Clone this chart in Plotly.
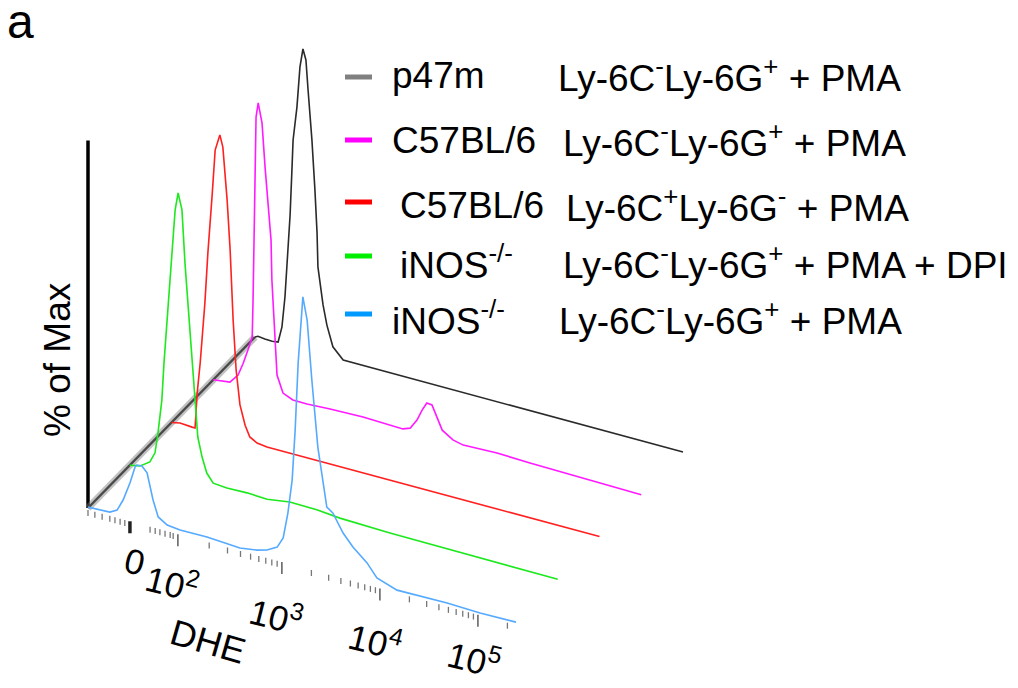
import math
import plotly.graph_objects as go

W, H = 1018, 688

# ---- data: DHE display channel (0-1000 along the axis) vs % of Max ----
ino_pma_ch = [0, 28, 51, 68, 82, 98, 110, 114, 126, 138, 152, 164, 185, 215, 278, 355, 395,
              418, 442, 456, 467, 477, 484, 491, 500, 502, 512, 523, 537, 558, 572, 596, 619,
              652, 675, 722, 839, 916, 1000]
ino_pma_pct = [0.3, 0.4, 0.6, 1.9, 5.8, 12.1, 17.9, 18.7, 18.8, 17.0, 8.5, 3.3, 1.4, 0.9, 1.0,
               0.3, 1.1, 2.0, 3.9, 7.5, 16.2, 27.6, 44.5, 67.1, 86.2, 89.6, 82.3, 62.7, 40.9,
               21.7, 20.3, 14.5, 10.7, 6.7, 2.6, 0.3, 0.5, 0.1, 0.3]

ino_dpi_ch = [0, 24, 47, 59, 66, 75, 80, 87, 94, 99, 106, 113, 122, 129, 136, 143, 148, 159,
              169, 180, 195, 227, 274, 321, 374, 437, 491, 608, 1000]
ino_dpi_pct = [0, 0.7, 2.9, 6.4, 13.3, 24.6, 37.2, 51.8, 63.0, 74.5, 89.1, 95.1, 89.8, 72.4,
               59.3, 46.2, 34.0, 15.5, 9.2, 4.3, 1.5, 1.1, 1.3, 1.0, 2.1, 1.9, 1.2, 0.7, 0.3]

b6_mono_ch = [0, 20, 48, 55, 60, 67, 78, 85, 95, 102, 113, 120, 130, 137, 144, 151, 160, 172,
              183, 200, 223, 277, 340, 417, 1000]
b6_mono_pct = [0, 0.6, 0.3, 0.3, 12.1, 22.4, 42.8, 59.8, 79.5, 94.7, 100.2, 96.4, 79.1, 62.7,
               39.7, 23.3, 12.0, 5.7, 2.2, 0.8, 0.4, 0.4, 0.2, 0.2, 0.3]

b6_gran_ch = [0, 16, 39, 58, 70, 81, 91, 93, 95, 98, 100, 105, 114, 121, 128, 135, 137, 144,
              149, 163, 186, 219, 273, 350, 443, 460, 476, 488, 499, 511, 523, 535, 560, 584,
              663, 740, 1000]
b6_gran_pct = [0, 0.2, 0.7, 3.8, 8.2, 13.0, 17.7, 30.1, 50.2, 72.0, 91.4, 96.3, 89.9, 75.6,
               62.5, 51.8, 38.5, 22.1, 7.3, 1.8, 0.4, 0.3, 0.7, 1.0, 0.6, 1.5, 4.8, 8.6, 11.4,
               11.2, 7.6, 3.7, 1.4, 0.6, 1.0, 0.6, 0.0]

p47_gran_ch = [0, 7, 23, 40, 54, 63, 70, 77, 82, 86, 89, 98, 105, 112, 119, 124, 133, 140,
               145, 147, 152, 159, 168, 182, 206, 252, 292, 643, 1000]
p47_gran_pct = [0, 0.5, 0.2, 0.1, 0.4, 5.8, 16.0, 32.0, 43.8, 58.0, 69.1, 80.4, 94.0, 100.3,
                96.9, 87.1, 70.8, 54.4, 40.2, 29.0, 23.2, 16.8, 10.4, 3.7, 0.2, 0.2, 0.2, 0.1, 0.0]

# legend rows (top to bottom) and the layer each histogram sits on (0 = front)
genotypes = ["p47m", "C57BL/6", "C57BL/6", "iNOS<sup>-/-</sup>", "iNOS<sup>-/-</sup>"]
conditions = ["Ly-6C<sup>-</sup>Ly-6G<sup>+</sup> + PMA",
              "Ly-6C<sup>-</sup>Ly-6G<sup>+</sup> + PMA",
              "Ly-6C<sup>+</sup>Ly-6G<sup>-</sup> + PMA",
              "Ly-6C<sup>-</sup>Ly-6G<sup>+</sup> + PMA + DPI",
              "Ly-6C<sup>-</sup>Ly-6G<sup>+</sup> + PMA"]
series_ch = [p47_gran_ch, b6_gran_ch, b6_mono_ch, ino_dpi_ch, ino_pma_ch]
series_pct = [p47_gran_pct, b6_gran_pct, b6_mono_pct, ino_dpi_pct, ino_pma_pct]
layers = [4, 3, 2, 1, 0]
curve_colors = ["#2a2a2a", "#ff1aff", "#ff2020", "#1ee81e", "#55aaff"]
swatch_colors = ["#808080", "#ff00ff", "#ff0000", "#00ee00", "#0099ff"]

# DHE axis ticks (display channel)
major_tick_ch = [98, 210, 453, 682, 911]
major_tick_labels = ["0", "10<sup>2</sup>", "10<sup>3</sup>", "10<sup>4</sup>", "10<sup>5</sup>"]
neg_minor_ch = [0, 16, 33, 51, 63, 75, 86]
lin_minor_ch = [145, 157, 168, 180, 192, 199]

# ---- offset-overlay projection ----
ORIGIN_X, ORIGIN_Y = 88.0, 508.0
STEP_X, STEP_Y = 41.75, -42.75      # shift between stacked layers
AXIS_DX, AXIS_DY = 428.0, 115.0     # full length of the DHE axis
PX_PER_PCT = 3.0
Y_AXIS_TOP_PCT = 122.5
FONT = "Liberation Sans, Arial, sans-serif"


def project(ch, pct, layer):
    x = ORIGIN_X + layer * STEP_X + ch / 1000.0 * AXIS_DX
    y = ORIGIN_Y + layer * STEP_Y + ch / 1000.0 * AXIS_DY - pct * PX_PER_PCT
    return x, y


fig = go.Figure()

# vertical "% of Max" axis
vx0, vy0 = project(0, 0, 0)
vx1, vy1 = project(0, Y_AXIS_TOP_PCT, 0)
fig.add_trace(go.Scatter(x=[vx0, vx1], y=[vy0, vy1], mode="lines",
                         line=dict(color="black", width=3.5), hoverinfo="skip"))

# receding wall joining the layer origins
wall = [project(0, 0, k) for k in range(5)]
wx = [p[0] for p in wall]
wy = [p[1] for p in wall]
fig.add_trace(go.Scatter(x=wx, y=wy, mode="lines",
                         line=dict(color="rgba(120,120,120,0.45)", width=7), hoverinfo="skip"))
fig.add_trace(go.Scatter(x=wx, y=wy, mode="lines",
                         line=dict(color="#4a4a4a", width=2.5), hoverinfo="skip"))

# histograms, back layer first
for ch, pct, layer, col in sorted(zip(series_ch, series_pct, layers, curve_colors),
                                  key=lambda s: -s[2]):
    pts = [project(c, p, layer) for c, p in zip(ch, pct)]
    fig.add_trace(go.Scatter(x=[p[0] for p in pts], y=[p[1] for p in pts], mode="lines",
                             line=dict(color=col, width=1.6), hoverinfo="skip"))

# tick marks hanging under the front layer
TICK_GAP, MAJOR_LEN, MINOR_LEN = 2.0, 12.0, 6.0
minor_ch = list(neg_minor_ch) + list(lin_minor_ch)
for k in range(1, len(major_tick_ch)):
    lo = major_tick_ch[k]
    hi = major_tick_ch[k + 1] if k + 1 < len(major_tick_ch) else lo + (lo - major_tick_ch[k - 1])
    for m in range(2, 10):
        c = lo + math.log10(m) * (hi - lo)
        if c <= 1000:
            minor_ch.append(c)


def tick_segments(chs, length):
    xs, ys = [], []
    for c in chs:
        x, y = project(c, 0, 0)
        xs += [x, x, None]
        ys += [y + TICK_GAP, y + TICK_GAP + length, None]
    return xs, ys


mx, my = tick_segments(minor_ch, MINOR_LEN)
fig.add_trace(go.Scatter(x=mx, y=my, mode="lines", line=dict(color="#777777", width=1.3),
                         hoverinfo="skip"))
Mx, My = tick_segments(major_tick_ch[1:], MAJOR_LEN)
fig.add_trace(go.Scatter(x=Mx, y=My, mode="lines", line=dict(color="#666666", width=1.6),
                         hoverinfo="skip"))
zx, zy = tick_segments(major_tick_ch[:1], MAJOR_LEN)
fig.add_trace(go.Scatter(x=zx, y=zy, mode="lines", line=dict(color="#222222", width=3.5),
                         hoverinfo="skip"))

annotations = []
# tick-label placement below each major tick
label_dx = [5, -5, -5, -4, -3]
label_dy = [42, 50, 55, 54, 45]
for c, lab, ldx, ldy in zip(major_tick_ch, major_tick_labels, label_dx, label_dy):
    x, y = project(c, 0, 0)
    annotations.append(dict(x=x + ldx, y=y + ldy, text=lab, showarrow=False, textangle=14,
                            xanchor="center", yanchor="middle",
                            font=dict(family=FONT, size=35, color="black")))

dx_, dy_ = project(280, 0, 0)
annotations.append(dict(x=dx_, y=dy_ + 101, text="DHE", showarrow=False, textangle=16,
                        xanchor="center", yanchor="middle",
                        font=dict(family=FONT, size=36, color="black")))
annotations.append(dict(x=57, y=360, text="% of Max", showarrow=False, textangle=-90,
                        xanchor="center", yanchor="middle",
                        font=dict(family=FONT, size=37, color="black")))
annotations.append(dict(x=5, y=21, text="a", showarrow=False, xanchor="left", yanchor="middle",
                        font=dict(family=FONT, size=48, color="black")))

# legend
swatch_y = [77, 140, 202, 256, 314]
text_y = [75, 140, 205, 262, 318]
geno_x = [390, 390, 398, 398, 390]
cond_x = [556, 561, 564, 561, 557]
shapes = []
for i in range(5):
    shapes.append(dict(type="line", xref="x", yref="y", x0=345, x1=372,
                       y0=swatch_y[i], y1=swatch_y[i],
                       line=dict(color=swatch_colors[i], width=5)))
    annotations.append(dict(x=geno_x[i], y=text_y[i], text=genotypes[i], showarrow=False,
                            xanchor="left", yanchor="middle",
                            font=dict(family=FONT, size=37, color="black")))
    annotations.append(dict(x=cond_x[i], y=text_y[i], text=conditions[i], showarrow=False,
                            xanchor="left", yanchor="middle",
                            font=dict(family=FONT, size=37, color="black")))

fig.update_layout(
    width=W, height=H, autosize=False,
    margin=dict(l=0, r=0, t=0, b=0, pad=0),
    paper_bgcolor="white", plot_bgcolor="white",
    showlegend=False,
    xaxis=dict(range=[0, W], visible=False, fixedrange=True),
    yaxis=dict(range=[H, 0], visible=False, fixedrange=True),
    annotations=annotations, shapes=shapes,
)

fig.write_html("out.html")
